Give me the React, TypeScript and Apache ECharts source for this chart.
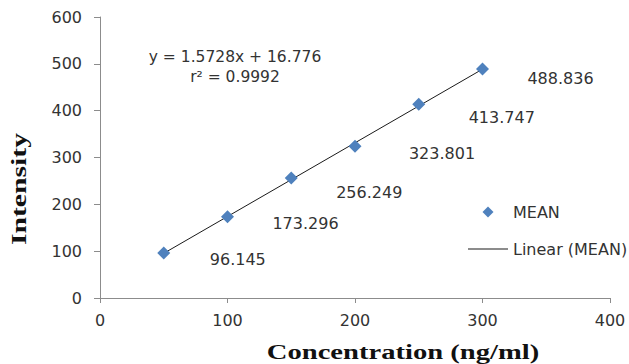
import React, { useEffect, useRef } from "react";
import * as echarts from "echarts";

const concentrations = [50, 100, 150, 200, 250, 300];
const meanIntensity = [96.145, 173.296, 256.249, 323.801, 413.747, 488.836];
const xTicks = [0, 100, 200, 300, 400];
const yTicks = [0, 100, 200, 300, 400, 500, 600];
const slope = 1.5728;
const intercept = 16.776;
const rSquared = 0.9992;
const trendRange = [50, 300];

// label placement (pixels) for each data label, as in the original chart
const labelOffsets: [number, number][] = [
  [74, 7],
  [78, 7],
  [78, 15],
  [87, 7],
  [83, 13],
  [78, 9],
];

const TEXT = "#333333";
const AXIS = "#8c8c8c";
const BLUE = "#4F81BD";
const FONT = "DejaVu Sans";

export default function App() {
  const ref = useRef<HTMLDivElement>(null);
  useEffect(() => {
    if (!ref.current) return;
    const chart = echarts.init(ref.current, null, { renderer: "svg" });
    const scatterData = concentrations.map((c, i) => ({
      value: [c, meanIntensity[i]],
      label: {
        show: true,
        position: "inside" as const,
        offset: labelOffsets[i],
        formatter: String(meanIntensity[i]),
        color: TEXT,
        textBorderWidth: 0,
        opacity: 1,
      },
    }));
    const trendData = trendRange.map((x) => [x, slope * x + intercept]);
    chart.setOption({
      animation: false,
      backgroundColor: "#ffffff",
      grid: { left: 100, right: 19, top: 17, bottom: 66, containLabel: false },
      xAxis: {
        type: "value",
        min: xTicks[0],
        max: xTicks[xTicks.length - 1],
        interval: xTicks[1] - xTicks[0],
        splitLine: { show: false },
        axisLine: { show: true, lineStyle: { color: AXIS, width: 1 } },
        axisTick: { show: true, length: 5, lineStyle: { color: AXIS } },
        axisLabel: { color: TEXT, fontSize: 16, fontFamily: FONT, margin: 14 },
      },
      yAxis: {
        type: "value",
        min: yTicks[0],
        max: yTicks[yTicks.length - 1],
        interval: yTicks[1] - yTicks[0],
        splitLine: { show: false },
        axisLine: { show: true, lineStyle: { color: AXIS, width: 1 } },
        axisTick: { show: true, length: 6, lineStyle: { color: AXIS } },
        axisLabel: { color: TEXT, fontSize: 16, fontFamily: FONT, margin: 18 },
      },
      legend: {
        orient: "vertical",
        left: 463,
        top: 199,
        itemWidth: 40,
        itemHeight: 11,
        itemGap: 21,
        symbolKeepAspect: true,
        textStyle: { color: TEXT, fontSize: 16, fontFamily: FONT },
        data: [
          { name: "MEAN", icon: "path://M5,0L10,5L5,10L0,5Z" },
          {
            name: "Linear (MEAN)",
            icon: "path://M0,0L40,0L40,1.2L0,1.2Z",
            itemStyle: { color: "#1a1a1a" },
          },
        ],
      },
      series: [
        {
          name: "Linear (MEAN)",
          type: "line",
          data: trendData,
          symbol: "none",
          showSymbol: false,
          lineStyle: { color: "#1a1a1a", width: 1 },
          itemStyle: { color: "#1a1a1a" },
          z: 1,
        },
        {
          name: "MEAN",
          type: "scatter",
          data: scatterData,
          symbol: "diamond",
          symbolSize: 13,
          itemStyle: { color: BLUE, opacity: 1 },
          label: { color: TEXT, fontSize: 16, fontFamily: FONT },
          z: 2,
        },
      ],
      graphic: [
        {
          type: "text",
          x: 235,
          y: 57,
          style: {
            text: `y = ${slope}x + ${intercept}`,
            fill: TEXT,
            font: `15.5px '${FONT}'`,
            textAlign: "center",
            textVerticalAlign: "middle",
          },
        },
        {
          type: "text",
          x: 235,
          y: 77,
          style: {
            text: `r² = ${rSquared}`,
            fill: TEXT,
            font: `15.5px '${FONT}'`,
            textAlign: "center",
            textVerticalAlign: "middle",
          },
        },
        {
          type: "text",
          x: 403,
          y: 352,
          scaleX: 1.3,
          style: {
            text: "Concentration (ng/ml)",
            fill: "#111111",
            font: "bold 22px 'Liberation Serif'",
            textAlign: "center",
            textVerticalAlign: "middle",
          },
        },
        {
          type: "text",
          x: 19,
          y: 189,
          rotation: Math.PI / 2,
          scaleX: 1.35,
          style: {
            text: "Intensity",
            fill: "#111111",
            font: "bold 22px 'Liberation Serif'",
            textAlign: "center",
            textVerticalAlign: "middle",
          },
        },
      ],
    });
    return () => chart.dispose();
  }, []);
  return (
    <div
      ref={ref}
      style={{ position: "fixed", left: 0, top: 0, width: 629, height: 364 }}
    />
  );
}
